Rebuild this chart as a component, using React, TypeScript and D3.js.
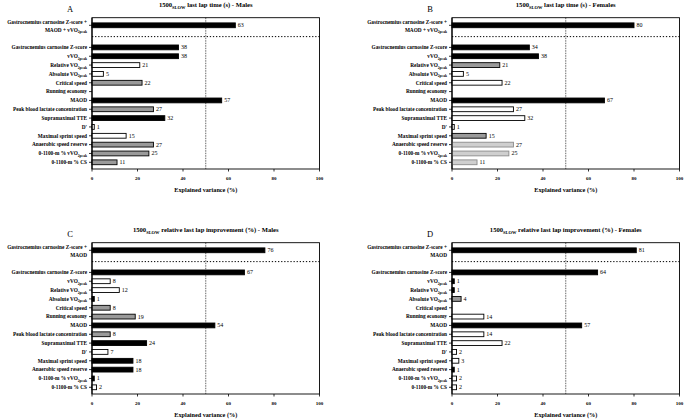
import React, { useEffect, useRef } from "react";
import * as d3 from "d3";

// row labels, _{...} marks a subscript
const comboLabelsTime = ["Gastrocnemius carnosine Z-score +", "MAOD + vVO_{2peak}"];
const comboLabelsImpr = ["Gastrocnemius carnosine Z-score +", "MAOD"];
const predictors = [
    "Gastrocnemius carnosine Z-score",
    "vVO_{2peak}",
    "Relative VO_{2peak}",
    "Absolute VO_{2peak}",
    "Critical speed",
    "Running economy",
    "MAOD",
    "Peak blood lactate concentration",
    "Supramaximal TTE",
    "D'",
    "Maximal sprint speed",
    "Anaerobic speed reserve",
    "0-1100-m % vVO_{2peak}",
    "0-1100-m % CS",
];
const xTicks = [0, 20, 40, 60, 80, 100];

// explained variance (%), first value = combined model; null = no bar
const valuesA = [63, 38, 38, 21, 5, 22, null, 57, 27, 32, 1, 15, 27, 25, 11];
const valuesB = [80, 34, 38, 21, 5, 22, null, 67, 27, 32, 1, 15, 27, 25, 11];
const valuesC = [76, 67, 8, 12, 1, 8, 19, 54, 8, 24, 7, 18, 18, 1, 2];
const valuesD = [81, 64, 1, 1, 4, null, 14, 57, 14, 22, 2, 3, 1, 2, 2];

// bar style: k = black, w = white, g = gray, l = light gray
const fillsA = ["k", "k", "k", "w", "w", "g", "w", "k", "g", "k", "w", "w", "g", "g", "g"];
const fillsB = ["k", "k", "k", "g", "w", "w", "w", "k", "w", "w", "w", "g", "l", "l", "l"];
const fillsC = ["k", "k", "w", "w", "k", "g", "g", "k", "g", "k", "w", "k", "k", "k", "w"];
const fillsD = ["k", "k", "k", "k", "g", "w", "w", "k", "w", "w", "w", "w", "k", "w", "w"];

const panels = [
    { letter: "A", title: "last lap time (s) - Males", combo: comboLabelsTime, values: valuesA, fills: fillsA, dx: 0, dy: 0 },
    { letter: "B", title: "last lap time (s) - Females", combo: comboLabelsTime, values: valuesB, fills: fillsB, dx: 360, dy: 0 },
    { letter: "C", title: "relative last lap improvement (%) - Males", combo: comboLabelsImpr, values: valuesC, fills: fillsC, dx: 0, dy: 225 },
    { letter: "D", title: "relative last lap improvement (%) - Females", combo: comboLabelsImpr, values: valuesD, fills: fillsD, dx: 360, dy: 225 },
];

const styles: Record<string, { fill: string; stroke: string }> = {
    k: { fill: "#000", stroke: "#000" },
    w: { fill: "#fff", stroke: "#000" },
    g: { fill: "#9a9a9a", stroke: "#000" },
    l: { fill: "#cfcfcf", stroke: "#8a8a8a" },
};

const FONT = "'Liberation Serif', 'Times New Roman', serif";

// write text with _{sub} parts as tspans
function richText(sel: d3.Selection<SVGTextElement, unknown, null, undefined>, str: string, size: number) {
    const parts = str.split(/(_\{[^}]*\})/).filter((p) => p.length);
    let shift = 0;
    parts.forEach((p) => {
        if (p.startsWith("_{")) {
            sel.append("tspan")
                .attr("font-size", size * 0.68)
                .attr("dy", size * 0.32)
                .text(p.slice(2, -1));
            shift = -size * 0.32;
        } else {
            sel.append("tspan").attr("dy", shift).text(p);
            shift = 0;
        }
    });
}

export default function App() {
    const svgRef = useRef<SVGSVGElement>(null);

    useEffect(() => {
        if (!svgRef.current) return;
        const svg = d3.select(svgRef.current);
        svg.selectAll("*").remove();

        const x = d3.scaleLinear().domain([0, 100]).range([92, 319.5]);
        // row positions: combined model at 0, then a gap, then predictors
        const rowIndex = [0, ...predictors.map((_, i) => 2.5 + i)];
        const y = d3.scaleLinear().domain([0, 15.5]).range([25.3, 162.3]);
        const top = y(-0.86);
        const bottom = 169;
        const barH = 4.8;
        const labelSize = 5.3;

        panels.forEach((p) => {
            const g = svg.append("g").attr("transform", `translate(${p.dx},${p.dy})`);

            // panel letter
            g.append("text")
                .attr("x", 70).attr("y", 12)
                .attr("text-anchor", "middle")
                .attr("font-size", 8.5)
                .attr("font-family", FONT)
                .text(p.letter);

            // title
            const t = g.append("text")
                .attr("x", (x(0) + x(100)) / 2).attr("y", 6.8)
                .attr("text-anchor", "middle")
                .attr("font-size", 6.6)
                .attr("font-weight", "bold")
                .attr("font-family", FONT);
            richText(t, "1500_{SLOW} " + p.title, 6.6);

            // frame
            g.append("rect")
                .attr("x", x(0)).attr("y", top)
                .attr("width", x(100) - x(0)).attr("height", bottom - top)
                .attr("fill", "none").attr("stroke", "#000").attr("stroke-width", 0.9);

            // 50% reference line
            g.append("line")
                .attr("x1", x(50)).attr("x2", x(50))
                .attr("y1", top).attr("y2", bottom)
                .attr("stroke", "#000").attr("stroke-width", 0.6)
                .attr("stroke-dasharray", "1.5,1");

            // separator below combined model
            g.append("line")
                .attr("x1", x(0)).attr("x2", x(100))
                .attr("y1", y(1.28)).attr("y2", y(1.28))
                .attr("stroke", "#000").attr("stroke-width", 1)
                .attr("stroke-dasharray", "1.3,1.8");

            // x axis ticks + labels
            xTicks.forEach((v) => {
                g.append("line")
                    .attr("x1", x(v)).attr("x2", x(v))
                    .attr("y1", bottom).attr("y2", bottom + 2.5)
                    .attr("stroke", "#000").attr("stroke-width", 0.8);
                g.append("text")
                    .attr("x", x(v)).attr("y", bottom + 11)
                    .attr("text-anchor", "middle")
                    .attr("font-size", 5)
                    .attr("font-weight", "bold")
                    .attr("font-family", FONT)
                    .text(v);
            });
            g.append("text")
                .attr("x", (x(0) + x(100)) / 2).attr("y", bottom + 22.5)
                .attr("text-anchor", "middle")
                .attr("font-size", 6.2)
                .attr("font-weight", "bold")
                .attr("font-family", FONT)
                .text("Explained variance (%)");

            // rows
            p.values.forEach((v, i) => {
                const yc = y(rowIndex[i]);
                g.append("line")
                    .attr("x1", x(0) - 3).attr("x2", x(0))
                    .attr("y1", yc).attr("y2", yc)
                    .attr("stroke", "#000").attr("stroke-width", 0.8);

                if (i === 0) {
                    p.combo.forEach((line, j) => {
                        const lt = g.append("text")
                            .attr("x", x(0) - 5).attr("y", yc - 1.8 + j * 8)
                            .attr("text-anchor", "end")
                            .attr("font-size", labelSize)
                            .attr("font-weight", "bold")
                            .attr("font-family", FONT);
                        richText(lt, line, labelSize);
                    });
                } else {
                    const lt = g.append("text")
                        .attr("x", x(0) - 5).attr("y", yc + 1.8)
                        .attr("text-anchor", "end")
                        .attr("font-size", labelSize)
                        .attr("font-weight", "bold")
                        .attr("font-family", FONT);
                    richText(lt, predictors[i - 1], labelSize);
                }

                if (v === null) return;
                const s = styles[p.fills[i]];
                g.append("rect")
                    .attr("x", x(0)).attr("y", yc - barH / 2)
                    .attr("width", x(v) - x(0)).attr("height", barH)
                    .attr("fill", s.fill)
                    .attr("stroke", s.stroke)
                    .attr("stroke-width", 0.9);
                g.append("text")
                    .attr("x", x(v) + 2.5).attr("y", yc + 2)
                    .attr("font-size", 6)
                    .attr("font-family", FONT)
                    .text(v);
            });

            // left axis drawn over bars
            g.append("line")
                .attr("x1", x(0)).attr("x2", x(0))
                .attr("y1", top).attr("y2", bottom)
                .attr("stroke", "#000").attr("stroke-width", 1.1);
        });
    }, []);

    return (
        <svg
            ref={svgRef}
            width={685}
            height={419}
            style={{ position: "absolute", left: 0, top: 0, background: "#fff" }}
        />
    );
}
